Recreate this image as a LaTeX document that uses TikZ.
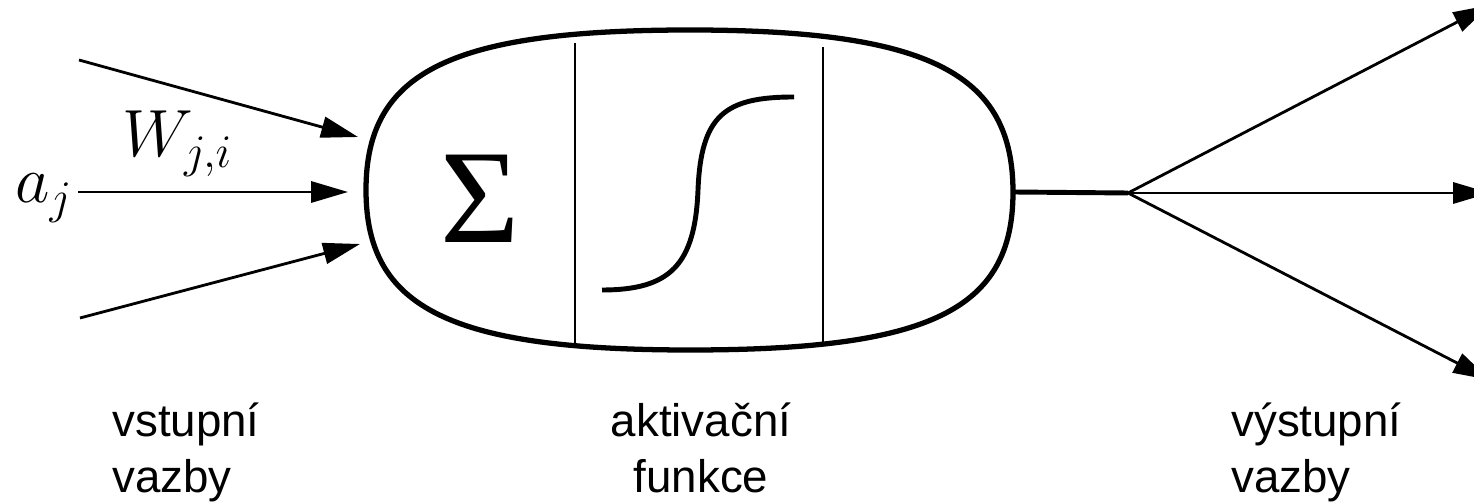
\RequirePackage{fix-cm}
\documentclass[tikz,border=0pt]{standalone}
\usepackage{fontspec}
\newfontfamily\lblfont{Liberation Sans}
\newfontfamily\sumfont{Liberation Serif}
\usetikzlibrary{arrows.meta}

\begin{document}
\begin{tikzpicture}[x=0.02cm, y=-0.02cm,
    lbl/.style={font=\lblfont\fontsize{26}{32}\selectfont, inner sep=0pt},
    m/.style={font=\fontsize{38}{40}\selectfont, inner sep=0pt, anchor=base west},
    body/.style={line width=3pt},
    sep/.style={line width=1.1pt},
    curve/.style={line width=2.8pt},
    inp/.style={line width=1.6pt, -{Triangle[length=21pt, width=12pt]}},
    stem/.style={line width=2.8pt},
    outp/.style={line width=1.6pt, -{Triangle[length=21pt, width=12pt]}}
]
    \useasboundingbox (0,0) rectangle (1474,502);

    % neuron body
    \coordinate (nl) at (366,190);
    \coordinate (nt) at (690,30);
    \coordinate (nr) at (1013,192);
    \coordinate (nb) at (690,350);
    \draw[body] (nl) .. controls +(0,-118) and +(-240,0) .. (nt)
        .. controls +(240,0) and +(0,-118) .. (nr)
        .. controls +(0,118) and +(240,0) .. (nb)
        .. controls +(-240,0) and +(0,118) .. (nl) -- cycle;
    \draw[sep] (575,43) -- (575,345);
    \draw[sep] (823,47) -- (823,342);

    \node[inner sep=0pt] (sum) at (480,199)
        {\scalebox{1.02}[1]{\sumfont\fontsize{76}{76}\selectfont Σ}};
    \draw[curve] (602,290) .. controls (670,290) and (695,265) .. (698,190)
        .. controls (701,115) and (725,97) .. (794,97);

    % inputs
    \coordinate (i1) at (79,60);
    \coordinate (i2) at (78,192);
    \coordinate (i3) at (80,318);
    \coordinate (t1) at (358,137);
    \coordinate (t2) at (348,192);
    \coordinate (t3) at (360,244);
    \foreach \k in {1,2,3}
        \draw[inp] (i\k) -- (t\k);
    \node[m] (aj) at (15,203) {$a_j$};
    \node[m] (w) at (122,157) {$W_{j,i}$};

    % outputs
    \coordinate (fork) at (1128,193);
    \coordinate (o1) at (1490,5);
    \coordinate (o2) at (1490,193);
    \coordinate (o3) at (1490,380);
    \draw[stem] (nr) -- (fork);
    \foreach \k in {1,2,3}
        \draw[outp] (fork) -- (o\k);

    \node[lbl, anchor=base west, align=left] (vin) at (112,493) {vstupní\\vazby};
    \node[lbl, anchor=base, align=center] (act) at (701,493) {aktivační\\funkce};
    \node[lbl, anchor=base west, align=left] (vout) at (1231,493) {výstupní\\vazby};
\end{tikzpicture}
\end{document}
